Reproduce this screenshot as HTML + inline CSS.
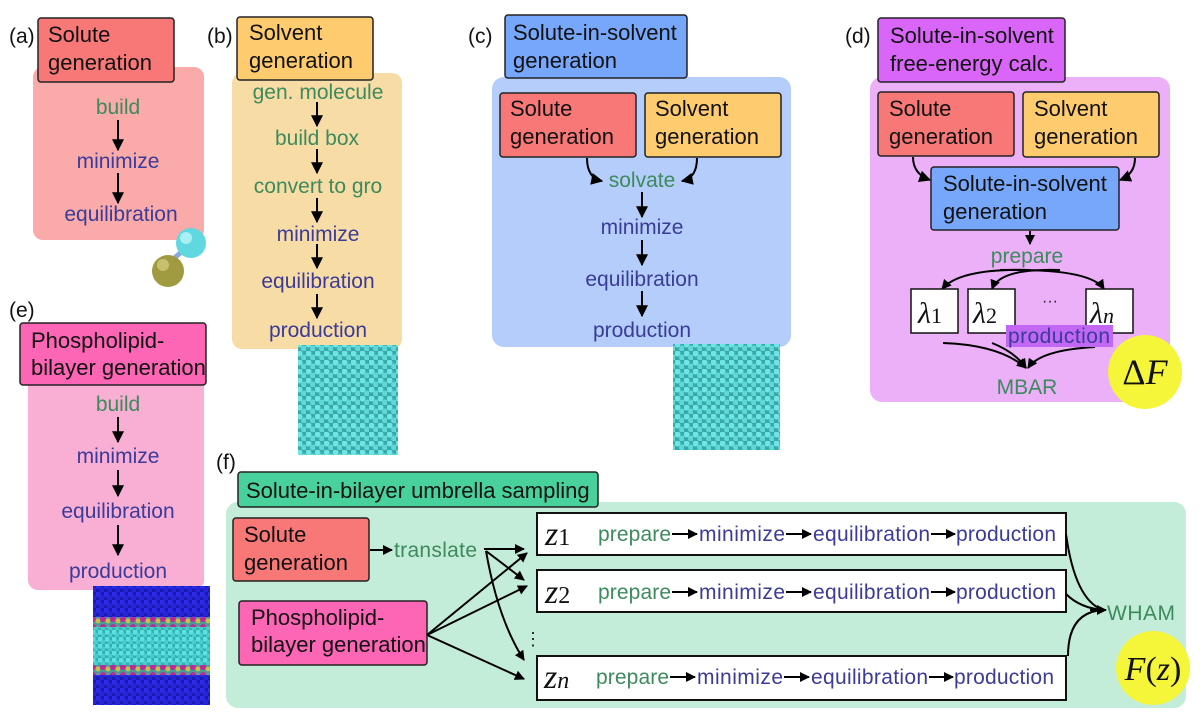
<!DOCTYPE html>
<html><head><meta charset="utf-8"><style>
html,body{margin:0;padding:0;background:#fff}
svg{display:block}
text{font-family:"Liberation Sans",sans-serif}
.g{fill:#3d8a5c;font-size:21px;text-anchor:middle}
.b{fill:#3b3b98;font-size:21px;text-anchor:middle}
.t{fill:#111;font-size:22px}
.l{fill:#111;font-size:21px}
.m{font-family:"Liberation Serif",serif;font-style:italic;fill:#111}
.r{font-size:21px}
</style></head><body>
<svg width="1200" height="722" viewBox="0 0 1200 722" xmlns="http://www.w3.org/2000/svg">
<defs>
<marker id="a" viewBox="0 0 10 10" refX="9" refY="5" markerWidth="10" markerHeight="10" markerUnits="userSpaceOnUse" orient="auto"><path d="M0,0L10,5L0,10z" fill="#000"/></marker>
<marker id="s" viewBox="0 0 10 10" refX="9" refY="5" markerWidth="12" markerHeight="12" markerUnits="userSpaceOnUse" orient="auto"><path d="M0,0L10,5L0,10z" fill="#000"/></marker>
<pattern id="w" width="9" height="9" patternUnits="userSpaceOnUse"><rect width="9" height="9" fill="#3aa8a8"/><circle cx="2.5" cy="2.5" r="3" fill="#6ee6e6"/><circle cx="7" cy="6.5" r="3" fill="#5fd8d8"/></pattern>
<pattern id="bl" width="8" height="8" patternUnits="userSpaceOnUse"><rect width="8" height="8" fill="#1a1ab0"/><circle cx="2" cy="2" r="3" fill="#2a2ae8"/><circle cx="6" cy="6" r="3" fill="#2424d8"/></pattern>
<pattern id="cy" width="7" height="7" patternUnits="userSpaceOnUse"><rect width="7" height="7" fill="#30b0b0"/><circle cx="2" cy="2" r="2.6" fill="#5ee0e0"/><circle cx="5.5" cy="5.5" r="2.6" fill="#48cccc"/></pattern>
<pattern id="mg" width="10" height="8" patternUnits="userSpaceOnUse"><rect width="10" height="8" fill="#4a9a9a"/><circle cx="3" cy="3" r="3" fill="#c0289a"/><circle cx="8" cy="5" r="2.5" fill="#c8c040"/></pattern>
</defs>

<!-- (a) -->
<rect x="33" y="67" width="171" height="173" rx="10" fill="#f9aaa9"/>
<rect x="38" y="18" width="136" height="64" rx="3" fill="#f87878" stroke="#222" stroke-width="1.5"/>
<text class="l" x="9" y="43">(a)</text>
<text class="t" x="48" y="42">Solute</text><text class="t" x="48" y="70">generation</text>
<text class="g" x="118" y="114">build</text>
<line x1="118" y1="120" x2="118" y2="150" stroke="#000" stroke-width="2" marker-end="url(#s)"/>
<text class="b" x="118" y="168">minimize</text>
<line x1="118" y1="173" x2="118" y2="203" stroke="#000" stroke-width="2" marker-end="url(#s)"/>
<text class="b" x="121" y="221">equilibration</text>
<line x1="170" y1="262" x2="188" y2="246" stroke="#8ad" stroke-width="5"/>
<circle cx="191" cy="243" r="15" fill="#60d8e0"/><circle cx="186" cy="238" r="6" fill="#a8f0f4"/>
<circle cx="168" cy="271" r="16" fill="#a09a40"/><circle cx="163" cy="265" r="6" fill="#c8c070"/>

<!-- (b) -->
<rect x="232" y="73" width="170" height="276" rx="10" fill="#f8dca6"/>
<rect x="237" y="17" width="136" height="63" rx="3" fill="#fecb6e" stroke="#222" stroke-width="1.5"/>
<text class="l" x="207" y="43">(b)</text>
<text class="t" x="249" y="40">Solvent</text><text class="t" x="249" y="68">generation</text>
<text class="g" x="318" y="99">gen. molecule</text>
<line x1="317" y1="102" x2="317" y2="126" stroke="#000" stroke-width="2" marker-end="url(#s)"/>
<text class="g" x="317" y="145">build box</text>
<line x1="317" y1="149" x2="317" y2="173" stroke="#000" stroke-width="2" marker-end="url(#s)"/>
<text class="g" x="318" y="193">convert to gro</text>
<line x1="317" y1="198" x2="317" y2="222" stroke="#000" stroke-width="2" marker-end="url(#s)"/>
<text class="b" x="318" y="241">minimize</text>
<line x1="317" y1="244" x2="317" y2="268" stroke="#000" stroke-width="2" marker-end="url(#s)"/>
<text class="b" x="318" y="288">equilibration</text>
<line x1="317" y1="294" x2="317" y2="318" stroke="#000" stroke-width="2" marker-end="url(#s)"/>
<text class="b" x="318" y="337">production</text>
<rect x="298" y="345" width="100" height="110" fill="url(#w)"/>

<!-- (c) -->
<rect x="492" y="77" width="299" height="270" rx="12" fill="#b4cdfb"/>
<rect x="505" y="15" width="182" height="63" rx="3" fill="#77a7fb" stroke="#222" stroke-width="1.5"/>
<text class="l" x="468" y="43">(c)</text>
<text class="t" x="513" y="40">Solute-in-solvent</text><text class="t" x="513" y="68">generation</text>
<rect x="500" y="93" width="136" height="64" rx="3" fill="#f87878" stroke="#222" stroke-width="1.5"/>
<text class="t" x="510" y="116">Solute</text><text class="t" x="510" y="144">generation</text>
<rect x="645" y="93" width="136" height="64" rx="3" fill="#fecb6e" stroke="#222" stroke-width="1.5"/>
<text class="t" x="655" y="116">Solvent</text><text class="t" x="655" y="144">generation</text>
<path d="M587,158 Q587,178 602,181" fill="none" stroke="#000" stroke-width="2" marker-end="url(#s)"/>
<path d="M697,158 Q697,178 682,181" fill="none" stroke="#000" stroke-width="2" marker-end="url(#s)"/>
<text class="g" x="642" y="187">solvate</text>
<line x1="642" y1="192" x2="642" y2="217" stroke="#000" stroke-width="2" marker-end="url(#s)"/>
<text class="b" x="642" y="234">minimize</text>
<line x1="642" y1="240" x2="642" y2="265" stroke="#000" stroke-width="2" marker-end="url(#s)"/>
<text class="b" x="642" y="286">equilibration</text>
<line x1="642" y1="291" x2="642" y2="316" stroke="#000" stroke-width="2" marker-end="url(#s)"/>
<text class="b" x="642" y="337">production</text>
<rect x="673" y="344" width="107" height="106" fill="url(#w)"/>

<!-- (d) -->
<rect x="870" y="77" width="300" height="325" rx="12" fill="#ebb0f7"/>
<rect x="878" y="18" width="187" height="64" rx="3" fill="#d966f9" stroke="#222" stroke-width="1.5"/>
<text class="l" x="845" y="43">(d)</text>
<text class="t" x="890" y="43">Solute-in-solvent</text><text class="t" x="890" y="71">free-energy calc.</text>
<rect x="878" y="92" width="136" height="64" rx="3" fill="#f87878" stroke="#222" stroke-width="1.5"/>
<text class="t" x="889" y="116">Solute</text><text class="t" x="889" y="144">generation</text>
<rect x="1023" y="92" width="136" height="65" rx="3" fill="#fecb6e" stroke="#222" stroke-width="1.5"/>
<text class="t" x="1034" y="116">Solvent</text><text class="t" x="1034" y="144">generation</text>
<path d="M913,157 Q913,174 930,180" fill="none" stroke="#000" stroke-width="2" marker-end="url(#s)"/>
<path d="M1135,158 Q1135,174 1120,180" fill="none" stroke="#000" stroke-width="2" marker-end="url(#s)"/>
<rect x="931" y="167" width="188" height="63" rx="3" fill="#77a7fb" stroke="#222" stroke-width="1.5"/>
<text class="t" x="943" y="191">Solute-in-solvent</text><text class="t" x="943" y="219">generation</text>
<line x1="1030" y1="231" x2="1030" y2="244" stroke="#000" stroke-width="2" marker-end="url(#a)"/>
<text class="g" x="1027" y="263">prepare</text>
<path d="M1030,270 Q960,268 942,289" fill="none" stroke="#000" stroke-width="2" marker-end="url(#a)"/>
<path d="M1060,270 Q1000,268 992,289" fill="none" stroke="#000" stroke-width="2" marker-end="url(#a)"/>
<path d="M1000,270 Q1090,268 1104,289" fill="none" stroke="#000" stroke-width="2" marker-end="url(#a)"/>
<rect x="911" y="289" width="47" height="44" fill="#fff" stroke="#111" stroke-width="1.5"/>
<rect x="968" y="289" width="47" height="44" fill="#fff" stroke="#111" stroke-width="1.5"/>
<rect x="1086" y="289" width="47" height="44" fill="#fff" stroke="#111" stroke-width="1.5"/>
<text class="m" x="918" y="323" font-size="30">λ<tspan font-style="normal" font-size="22">1</tspan></text>
<text class="m" x="973" y="323" font-size="30">λ<tspan font-style="normal" font-size="22">2</tspan></text>
<text class="m" x="1090" y="323" font-size="30">λ<tspan font-size="22">n</tspan></text>
<text x="1050" y="306" font-size="16" fill="#222" text-anchor="middle">···</text>
<path d="M943,343 Q1000,345 1026,368" fill="none" stroke="#000" stroke-width="2" marker-end="url(#a)"/>
<path d="M992,343 Q1015,352 1026,368" fill="none" stroke="#000" stroke-width="2" marker-end="url(#a)"/>
<path d="M1095,347 Q1040,350 1028,368" fill="none" stroke="#000" stroke-width="2" marker-end="url(#a)"/>
<rect x="1006" y="325" width="107" height="22" fill="#c266f4"/>
<text x="1059" y="343" font-size="21" fill="#3b3b98" text-anchor="middle" textLength="102">production</text>
<text class="g" x="1027" y="394">MBAR</text>
<circle cx="1145" cy="372" r="37" fill="#f5f53a"/>
<text class="m" x="1145" y="384" font-size="36" text-anchor="middle"><tspan font-style="normal">Δ</tspan>F</text>

<!-- (e) -->
<rect x="28" y="360" width="176" height="230" rx="10" fill="#f9aed4"/>
<rect x="20" y="323" width="186" height="62" rx="3" fill="#fd65b5" stroke="#222" stroke-width="1.5"/>
<text class="l" x="9" y="317">(e)</text>
<text class="t" x="31" y="348">Phospholipid-</text><text class="t" x="31" y="375">bilayer generation</text>
<text class="g" x="118" y="411">build</text>
<line x1="118" y1="417" x2="118" y2="442" stroke="#000" stroke-width="2" marker-end="url(#s)"/>
<text class="b" x="118" y="463">minimize</text>
<line x1="118" y1="470" x2="118" y2="496" stroke="#000" stroke-width="2" marker-end="url(#s)"/>
<text class="b" x="118" y="518">equilibration</text>
<line x1="118" y1="525" x2="118" y2="555" stroke="#000" stroke-width="2" marker-end="url(#s)"/>
<text class="b" x="118" y="578">production</text>
<rect x="93" y="586" width="117" height="119" fill="url(#bl)"/>
<rect x="93" y="617" width="117" height="10" fill="url(#mg)"/>
<rect x="93" y="627" width="117" height="38" fill="url(#cy)"/>
<rect x="93" y="665" width="117" height="10" fill="url(#mg)"/>

<!-- (f) -->
<rect x="226" y="502" width="960" height="206" rx="12" fill="#c3ecd9"/>
<rect x="238" y="472" width="360" height="35" rx="3" fill="#48d19b" stroke="#222" stroke-width="1.5"/>
<text class="l" x="216" y="469">(f)</text>
<text class="t" x="246" y="498">Solute-in-bilayer umbrella sampling</text>
<rect x="233" y="518" width="136" height="63" rx="3" fill="#f87878" stroke="#222" stroke-width="1.5"/>
<text class="t" x="244" y="542">Solute</text><text class="t" x="244" y="570">generation</text>
<rect x="239" y="601" width="188" height="64" rx="3" fill="#fd65b5" stroke="#222" stroke-width="1.5"/>
<text class="t" x="251" y="625">Phospholipid-</text><text class="t" x="251" y="652">bilayer generation</text>
<line x1="370" y1="550" x2="392" y2="550" stroke="#000" stroke-width="2" marker-end="url(#a)"/>
<text x="394" y="557" font-size="21" fill="#3d8a5c" textLength="83">translate</text>
<line x1="484" y1="549" x2="524" y2="549" stroke="#000" stroke-width="2" marker-end="url(#a)"/>
<line x1="486" y1="551" x2="524" y2="580" stroke="#000" stroke-width="2" marker-end="url(#a)"/>
<path d="M486,551 Q498,620 524,660" fill="none" stroke="#000" stroke-width="2" marker-end="url(#a)"/>
<line x1="427" y1="635" x2="527" y2="553" stroke="#000" stroke-width="2" marker-end="url(#a)"/>
<line x1="427" y1="635" x2="527" y2="586" stroke="#000" stroke-width="2" marker-end="url(#a)"/>
<line x1="427" y1="635" x2="524" y2="679" stroke="#000" stroke-width="2" marker-end="url(#a)"/>
<rect x="537" y="513" width="529" height="42" fill="#fff" stroke="#111" stroke-width="2"/>
<rect x="537" y="570" width="529" height="42" fill="#fff" stroke="#111" stroke-width="2"/>
<rect x="537" y="656" width="529" height="44" fill="#fff" stroke="#111" stroke-width="2"/>
<text class="m" x="545" y="545" font-size="34">z<tspan font-style="normal" font-size="24">1</tspan></text>
<text class="m" x="545" y="603" font-size="34">z<tspan font-style="normal" font-size="24">2</tspan></text>
<text class="m" x="544" y="688" font-size="34">z<tspan font-size="24">n</tspan></text>
<text x="533" y="645" font-size="18" fill="#222" text-anchor="middle">⋮</text>
<g class="r">
<text x="598" y="541" fill="#3d8a5c" textLength="73">prepare</text><line x1="672" y1="534" x2="697" y2="534" stroke="#000" stroke-width="2" marker-end="url(#a)"/>
<text x="699" y="541" fill="#3b3b98" textLength="86">minimize</text><line x1="786" y1="534" x2="811" y2="534" stroke="#000" stroke-width="2" marker-end="url(#a)"/>
<text x="813" y="541" fill="#3b3b98" textLength="117">equilibration</text><line x1="931" y1="534" x2="955" y2="534" stroke="#000" stroke-width="2" marker-end="url(#a)"/>
<text x="956" y="541" fill="#3b3b98" textLength="100">production</text>
<text x="598" y="599" fill="#3d8a5c" textLength="73">prepare</text><line x1="672" y1="592" x2="697" y2="592" stroke="#000" stroke-width="2" marker-end="url(#a)"/>
<text x="699" y="599" fill="#3b3b98" textLength="86">minimize</text><line x1="786" y1="592" x2="811" y2="592" stroke="#000" stroke-width="2" marker-end="url(#a)"/>
<text x="813" y="599" fill="#3b3b98" textLength="117">equilibration</text><line x1="931" y1="592" x2="955" y2="592" stroke="#000" stroke-width="2" marker-end="url(#a)"/>
<text x="956" y="599" fill="#3b3b98" textLength="100">production</text>
<text x="596" y="684" fill="#3d8a5c" textLength="73">prepare</text><line x1="670" y1="677" x2="695" y2="677" stroke="#000" stroke-width="2" marker-end="url(#a)"/>
<text x="697" y="684" fill="#3b3b98" textLength="86">minimize</text><line x1="784" y1="677" x2="809" y2="677" stroke="#000" stroke-width="2" marker-end="url(#a)"/>
<text x="811" y="684" fill="#3b3b98" textLength="117">equilibration</text><line x1="929" y1="677" x2="953" y2="677" stroke="#000" stroke-width="2" marker-end="url(#a)"/>
<text x="954" y="684" fill="#3b3b98" textLength="100">production</text>
</g>
<path d="M1066,534 Q1075,600 1103,610" fill="none" stroke="#000" stroke-width="2"/>
<path d="M1066,594 Q1080,608 1103,610" fill="none" stroke="#000" stroke-width="2"/>
<path d="M1068,656 Q1068,612 1103,610" fill="none" stroke="#000" stroke-width="2"/>
<line x1="1090" y1="610" x2="1106" y2="610" stroke="#000" stroke-width="2" marker-end="url(#a)"/>
<text x="1107" y="620" font-size="21" fill="#3d8a5c" textLength="68">WHAM</text>
<circle cx="1153" cy="668" r="37" fill="#f5f53a"/>
<text class="m" x="1153" y="680" font-size="34" text-anchor="middle">F<tspan font-style="normal">(</tspan>z<tspan font-style="normal">)</tspan></text>
</svg>
</body></html>
